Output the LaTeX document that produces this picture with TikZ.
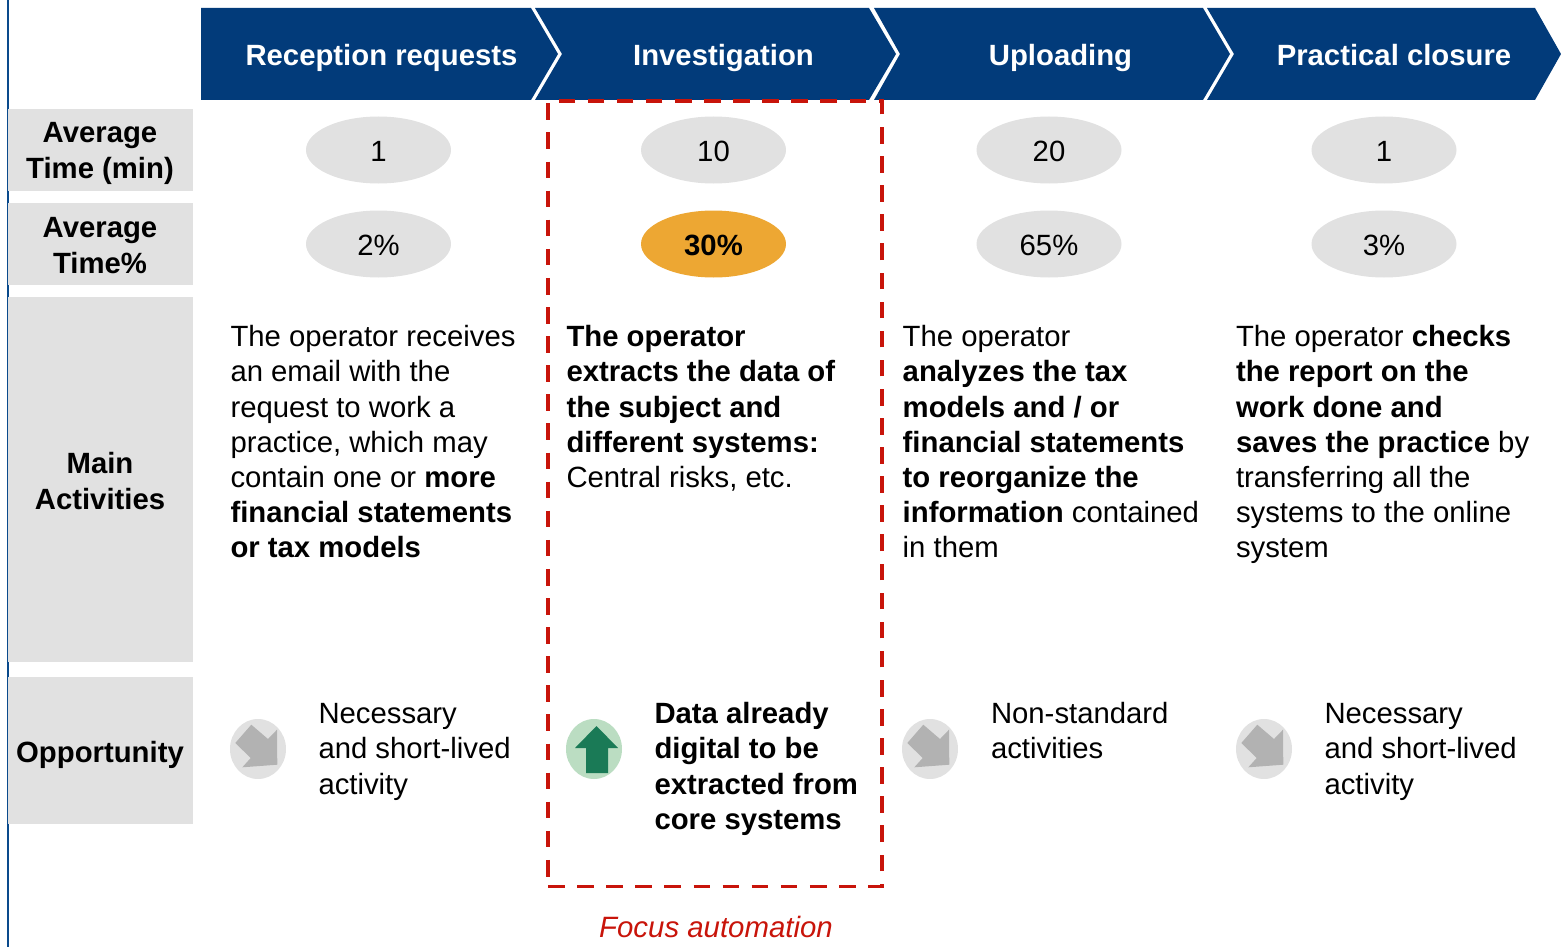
\documentclass[tikz,border=0pt]{standalone}
\usepackage{fontspec}
\setmainfont{Liberation Sans}
\usetikzlibrary{shapes.geometric}
\definecolor{navy}{HTML}{023B7A}
\definecolor{sidebar}{HTML}{0A4A8C}
\definecolor{lightgrey}{HTML}{E1E1E1}
\definecolor{midgrey}{HTML}{B2B2B2}
\definecolor{orangefill}{HTML}{EDA733}
\definecolor{redline}{HTML}{C8140A}
\definecolor{lightgreen}{HTML}{BBDDC2}
\definecolor{darkgreen}{HTML}{1A7A56}
\tikzset{
  x=1pt,y=-1pt,
  txt/.style={inner sep=0pt,outer sep=0pt,align=left,anchor=north west,font=\fontsize{29.3}{35.2}\selectfont,text=black},
  hdr/.style={inner sep=0pt,text=white,text height=21pt,text depth=0pt,font=\fontsize{29.3}{35}\selectfont\bfseries},
  lab/.style={inner sep=0pt,align=center,font=\fontsize{29.3}{35.2}\selectfont\bfseries},
  rowbox/.style={fill=lightgrey,draw=none},
  val/.style={ellipse,minimum width=145pt,minimum height=67pt,inner sep=0pt,fill=lightgrey,text height=23pt,text depth=0pt,font=\fontsize{29.3}{35}\selectfont},
  badge/.style={ellipse,minimum width=56pt,minimum height=60pt,inner sep=0pt,fill=lightgrey},
  hi/.style={fill=orangefill,font=\fontsize{29.3}{35}\selectfont\bfseries},
}
\newcommand{\greyarrow}[1]{\fill[midgrey] ([shift={(-6.7,-24.3)}]#1.center) -- ([shift={(10,-10)}]#1.center) -- ([shift={(19,-19.3)}]#1.center) -- ([shift={(19.3,15.7)}]#1.center) -- ([shift={(-15.7,18.3)}]#1.center) -- ([shift={(-7.3,9)}]#1.center) -- ([shift={(-22.7,-6)}]#1.center) -- cycle;}
\begin{document}
\begin{tikzpicture}
\useasboundingbox (0,0) rectangle (1561,947);
\draw[sidebar,line width=2.5pt] (8,0) -- (8,947);
% chevrons
\fill[navy] (201,8) -- (531,8) -- (558,54) -- (531,100) -- (201,100) -- cycle;
\fill[navy] (535,8) -- (869,8) -- (896,54) -- (869,100) -- (535,100) -- (562,54) -- cycle;
\fill[navy] (874,8) -- (1203,8) -- (1230,54) -- (1203,100) -- (874,100) -- (900,54) -- cycle;
\fill[navy] (1207,8) -- (1535,8) -- (1561,54) -- (1535,100) -- (1207,100) -- (1234,54) -- cycle;
\node[hdr] (h1) at (381.5,55) {Reception requests};
\node[hdr] (h2) at (723.5,55) {Investigation};
\node[hdr] (h3) at (1060.5,55) {Uploading};
\node[hdr] (h4) at (1394,55) {Practical closure};
% row boxes
\fill[rowbox] (8,109) rectangle (193,191);
\fill[rowbox] (8,203) rectangle (193,285);
\fill[rowbox] (8,297) rectangle (193,662);
\fill[rowbox] (8,677) rectangle (193,824);
\node[lab] (l1) at (100,153.5) {Average\\Time (min)};
\node[lab] (l2) at (100,245.5) {Average\\Time\%};
\node[lab] (l3) at (100,481) {Main\\Activities};
\node[lab] (l4) at (100,755) {Opportunity};
% values
\node[val] (a1) at (378.5,150) {1};
\node[val] (a2) at (713.5,150) {10};
\node[val] (a3) at (1049,150) {20};
\node[val] (a4) at (1384,150) {1};
\node[val] (b1) at (378.5,244) {2\%};
\node[val,hi] (b2) at (713.5,244) {30\%};
\node[val] (b3) at (1049,244) {65\%};
\node[val] (b4) at (1384,244) {3\%};
% activities
\node[txt] (m1) at (230.5,322) {\strut The operator receives\\an email with the\\request to work a\\practice, which may\\contain one or \textbf{more}\\\textbf{financial statements}\\\textbf{or tax models}};
\node[txt] (m2) at (566.5,322) {\strut\textbf{The operator}\\\textbf{extracts the data of}\\\textbf{the subject and}\\\textbf{different systems:}\\Central risks, etc.};
\node[txt] (m3) at (902.7,322) {\strut The operator\\\textbf{analyzes the tax}\\\textbf{models and / or}\\\textbf{financial statements}\\\textbf{to reorganize the}\\\textbf{information} contained\\in them};
\node[txt] (m4) at (1236,322) {\strut The operator \textbf{checks}\\\textbf{the report on the}\\\textbf{work done and}\\\textbf{saves the practice} by\\transferring all the\\systems to the online\\system};
% opportunity
\node[badge] (c1) at (258,749) {};
\node[badge,fill=lightgreen] (c2) at (594,749) {};
\node[badge] (c3) at (930,749) {};
\node[badge] (c4) at (1264,749) {};
\greyarrow{c1}
\greyarrow{c3}
\greyarrow{c4}
\fill[darkgreen] ([shift={(2.5,-23)}]c2.center) -- ([shift={(24,-1)}]c2.center) -- ([shift={(14,-1)}]c2.center) -- ([shift={(14,24)}]c2.center) -- ([shift={(-8,24)}]c2.center) -- ([shift={(-8,-1)}]c2.center) -- ([shift={(-19,-1)}]c2.center) -- cycle;
\node[txt] (o1) at (318.5,699) {\strut Necessary\\and short-lived\\activity};
\node[txt] (o2) at (654.5,699) {\strut\textbf{Data already}\\\textbf{digital to be}\\\textbf{extracted from}\\\textbf{core systems}};
\node[txt] (o3) at (991,699) {\strut Non-standard\\activities};
\node[txt] (o4) at (1324.5,699) {\strut Necessary\\and short-lived\\activity};
% focus
\coordinate (bl) at (548,886.3);
\coordinate (br) at (882,886.3);
\coordinate (tr) at (882,101.3);
\coordinate (tl) at (548,101.3);
\draw[redline,line width=3.6pt,dash pattern=on 16.6pt off 12.5pt] (bl) -- (br) -- (tr) -- (tl) -- (bl);
\node[inner sep=0pt,text=redline,font=\fontsize{29.4}{35}\selectfont\itshape] (f) at (716,927) {Focus automation};
\end{tikzpicture}
\end{document}
